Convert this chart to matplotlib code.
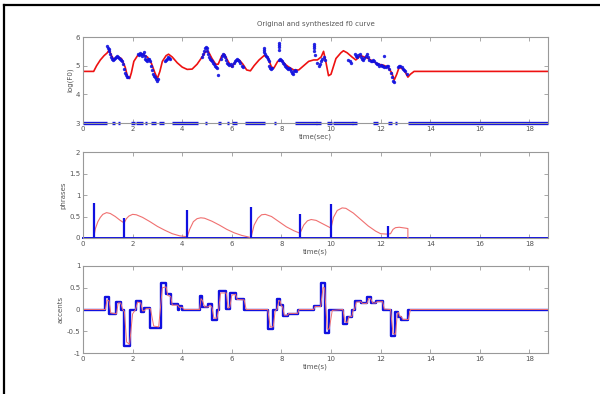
import numpy as np
import matplotlib.pyplot as plt
from matplotlib.lines import Line2D

# ---------------- data ----------------
# top panel: synthesized log F0 (red)
syn_t = [0, 0.43, 0.55, 0.7, 0.85, 0.98, 1.05, 1.15, 1.25, 1.4, 1.55, 1.7, 1.8, 1.88, 1.95,
         2.05, 2.2, 2.4, 2.6, 2.75, 2.9, 3.0, 3.1, 3.2, 3.35, 3.45, 3.6, 3.8, 4.0, 4.2, 4.4,
         4.6, 4.8, 4.95, 5.05, 5.2, 5.35, 5.45, 5.6, 5.7, 5.85, 6.0, 6.15, 6.3, 6.45, 6.6,
         6.75, 6.9, 7.1, 7.3, 7.45, 7.6, 7.7, 7.85, 8.0, 8.15, 8.3, 8.5, 8.7, 8.9, 9.1, 9.3,
         9.45, 9.6, 9.7, 9.8, 9.9, 10.0, 10.2, 10.4, 10.5, 10.65, 10.85, 11.0, 11.2, 11.5,
         11.7, 11.9, 12.1, 12.3, 12.45, 12.55, 12.65, 12.75, 12.95, 13.1, 13.2, 13.35, 18.75]
syn_v = [4.8, 4.8, 5.0, 5.2, 5.35, 5.45, 5.55, 5.35, 5.2, 5.3, 5.25, 4.95, 4.6, 4.55, 4.75,
         5.15, 5.35, 5.4, 5.3, 5.1, 4.75, 4.55, 4.8, 5.15, 5.35, 5.4, 5.3, 5.1, 4.95, 4.87, 4.88,
         5.05, 5.3, 5.5, 5.5, 5.25, 5.05, 5.05, 5.35, 5.4, 5.15, 4.95, 5.15, 5.2, 5.05, 4.85,
         4.82, 5.0, 5.2, 5.35, 5.3, 4.95, 4.92, 5.15, 5.2, 5.05, 4.95, 4.85, 4.85, 5.0, 5.15, 5.2,
         5.2, 5.3, 5.5, 5.1, 4.65, 4.7, 5.25, 5.45, 5.52, 5.45, 5.3, 5.2, 5.35, 5.25,
         5.15, 5.05, 5.02, 4.95, 4.75, 4.5, 4.7, 4.95, 4.85, 4.6, 4.7, 4.8, 4.8]

# top panel: original log F0 (blue dots, voiced frames)
f0_t = [0.98, 1.0, 1.03, 1.06, 1.1, 1.14, 1.18, 1.22, 1.26, 1.3, 1.34, 1.38, 1.42, 1.46, 1.5,
        1.54, 1.58, 1.62, 1.66, 1.7, 1.74, 1.78, 1.82,
        2.2, 2.24, 2.28, 2.32, 2.36, 2.4, 2.44, 2.48, 2.52, 2.56, 2.6, 2.64, 2.68, 2.72, 2.76,
        2.8, 2.84, 2.88, 2.92, 2.96, 3.0, 3.04,
        3.3, 3.34, 3.38, 3.42, 3.46, 3.5,
        4.78, 4.82, 4.86, 4.9, 4.94, 4.98, 5.02, 5.06, 5.1, 5.14, 5.18, 5.22, 5.26, 5.3, 5.34,
        5.38, 5.42, 5.45,
        5.55, 5.6, 5.64, 5.68, 5.72, 5.76, 5.8, 5.84, 5.88,
        5.98, 6.02, 6.1, 6.14, 6.18, 6.22, 6.26, 6.3, 6.34, 6.4, 6.45,
        7.28, 7.28, 7.28, 7.32, 7.36, 7.4, 7.44, 7.48, 7.52, 7.56, 7.6, 7.64,
        7.9, 7.9, 7.9, 7.9, 7.92, 7.96, 8.0, 8.04, 8.08, 8.12, 8.16, 8.2, 8.24, 8.28, 8.32,
        8.36, 8.4, 8.44, 8.48, 8.52, 8.56, 8.6,
        9.3, 9.3, 9.3, 9.3, 9.35, 9.45, 9.5, 9.55, 9.6, 9.65, 9.7, 9.75,
        10.7, 10.75, 10.8,
        10.95, 11.0, 11.05, 11.1, 11.15, 11.2, 11.25, 11.3, 11.35, 11.4, 11.45, 11.5, 11.55,
        11.6, 11.65, 11.7, 11.75, 11.8, 11.85, 11.9, 11.95, 12.0, 12.05, 12.1, 12.15, 12.15,
        12.2, 12.25, 12.3, 12.35, 12.4, 12.45, 12.5, 12.55,
        12.7, 12.75, 12.8, 12.85, 12.9, 12.95, 13.0, 13.05]
f0_v = [5.68, 5.62, 5.58, 5.5, 5.42, 5.3, 5.22, 5.2, 5.22, 5.26, 5.3, 5.32, 5.3, 5.28, 5.24,
        5.2, 5.15, 5.05, 4.9, 4.75, 4.68, 4.62, 4.6,
        5.42, 5.38, 5.45, 5.4, 5.35, 5.4, 5.48, 5.35, 5.22, 5.2, 5.18, 5.22, 5.25, 5.15, 5.0,
        4.85, 4.7, 4.65, 4.6, 4.52, 4.48, 4.55,
        5.15, 5.2, 5.25, 5.3, 5.28, 5.22,
        5.3, 5.4, 5.5, 5.6, 5.65, 5.62, 5.5, 5.42, 5.3, 5.22, 5.2, 5.15, 5.1, 5.05, 4.98,
        4.95, 4.92, 4.68,
        5.25, 5.35, 5.4, 5.38, 5.3, 5.2, 5.1, 5.05, 5.02,
        5.05, 5.0, 5.1, 5.15, 5.2, 5.22, 5.2, 5.15, 5.1, 5.0, 4.95,
        5.62, 5.55, 5.48, 5.4, 5.35, 5.3, 5.25, 5.15, 5.0, 4.92, 4.9, 4.92,
        5.8, 5.72, 5.64, 5.56, 5.2, 5.22, 5.2, 5.15, 5.1, 5.05, 5.0, 4.95, 4.92, 4.9, 4.92,
        4.88, 4.8, 4.75, 4.7, 4.8, 4.85, 4.82,
        5.76, 5.68, 5.6, 5.52, 5.38, 5.1, 5.0, 5.05, 5.15, 5.25, 5.3, 5.2,
        5.2, 5.15, 5.1,
        5.4, 5.35, 5.3, 5.38, 5.4, 5.3, 5.25, 5.2, 5.28, 5.35, 5.4, 5.3, 5.2,
        5.18, 5.15, 5.2, 5.15, 5.1, 5.05, 5.05, 5.0, 5.02, 5.0, 4.98, 4.95, 5.35,
        4.95, 4.98, 5.0, 4.9, 4.75, 4.6, 4.45, 4.42,
        4.95, 5.0, 4.98, 4.95, 4.9, 4.85, 4.8, 4.7]

# top panel: unvoiced frames, drawn on the floor value
uv_floor = 3
uv_on = [0.0, 1.15, 1.4, 1.95, 2.15, 2.5, 2.75, 3.05, 3.6, 4.9, 5.45, 5.8, 6.0, 6.55, 7.7,
         8.55, 9.4, 9.85, 10.1, 10.85, 11.7, 12.3, 12.6, 13.1]
uv_off = [0.95, 1.3, 1.5, 2.1, 2.4, 2.6, 2.95, 3.25, 4.65, 5.0, 5.55, 5.9, 6.2, 7.35, 7.8,
          9.45, 9.6, 10.05, 10.9, 11.05, 11.9, 12.45, 12.65, 18.75]

# middle panel: phrase commands (blue) and phrase component (red)
phr_t = [0.43, 1.66, 4.19, 6.77, 8.75, 10.0, 12.28]
phr_a = [0.81, 0.47, 0.66, 0.73, 0.55, 0.79, 0.27]
pc_t = [0.43, 0.5, 0.6, 0.7, 0.8, 0.95, 1.1, 1.3, 1.5, 1.66, 1.75, 1.85, 2.0, 2.15, 2.4,
        2.7, 3.0, 3.3, 3.6, 3.9, 4.19, 4.19, 4.3, 4.45, 4.6, 4.75, 4.9, 5.2, 5.5, 5.8, 6.1,
        6.4, 6.7, 6.77, 6.9, 7.05, 7.2, 7.35, 7.6, 7.9, 8.2, 8.5, 8.75, 8.9, 9.05, 9.2, 9.4,
        9.7, 10.0, 10.1, 10.25, 10.45, 10.6, 10.9, 11.2, 11.5, 11.8, 12.0, 12.28, 12.4, 12.5,
        12.6, 12.75, 13.0, 13.1, 13.1]
pc_v = [0.0, 0.22, 0.38, 0.48, 0.55, 0.59, 0.57, 0.5, 0.41, 0.35, 0.45, 0.51, 0.55, 0.54, 0.48,
        0.38, 0.27, 0.18, 0.1, 0.05, 0.03, 0.0, 0.2, 0.38, 0.45, 0.47, 0.46, 0.39, 0.3, 0.2, 0.12,
        0.06, 0.02, 0.0, 0.3, 0.46, 0.54, 0.55, 0.5, 0.38, 0.26, 0.17, 0.11, 0.3, 0.4, 0.43, 0.41,
        0.32, 0.23, 0.48, 0.64, 0.7, 0.69, 0.58, 0.43, 0.28, 0.16, 0.1, 0.09, 0.1, 0.2,
        0.24, 0.25, 0.23, 0.22, 0.0]

# bottom panel: accent commands (blue steps) and accent component (red)
acc_t = [0, 0.9, 1.05, 1.35, 1.52, 1.67, 1.88, 2.12, 2.33, 2.47, 2.72, 3.13, 3.35, 3.54,
         3.82, 3.88, 4.0, 4.7, 4.8, 5.05, 5.2, 5.4, 5.47, 5.78, 5.92, 6.15, 6.5, 7.45, 7.67,
         7.82, 7.95, 8.05, 8.25, 8.65, 9.3, 9.58, 9.74, 9.93, 10.48, 10.66, 10.84, 10.95,
         11.2, 11.45, 11.6, 11.8, 12.08, 12.4, 12.6, 12.72, 12.83, 13.12, 18.75]
acc_v = [0, 0.28, -0.11, 0.18, 0.0, -0.85, 0.0, 0.19, -0.05, 0.03, -0.43, 0.6, 0.35, 0.12,
         0.0, 0.08, 0.0, 0.3, 0.05, 0.12, -0.23, 0.0, 0.42, 0.02, 0.38, 0.25, 0.0, -0.45, 0.0,
         0.25, 0.1, -0.15, -0.1, 0.0, 0.08, 0.62, -0.55, 0.0, -0.33, -0.18, 0.0, 0.2,
         0.15, 0.28, 0.15, 0.2, 0.0, -0.62, -0.05, -0.18, -0.25, 0.0, 0.0]
ac_t = [0, 0.9, 0.97, 1.05, 1.12, 1.35, 1.42, 1.52, 1.6, 1.67, 1.76, 1.88, 2.0, 2.12, 2.2,
        2.33, 2.4, 2.47, 2.55, 2.72, 2.85, 3.05, 3.2, 3.35, 3.42, 3.54, 3.6, 3.82, 3.88, 4.0,
        4.08, 4.7, 4.76, 4.82, 4.9, 5.05, 5.12, 5.2, 5.28, 5.4, 5.47, 5.55, 5.78, 5.85, 5.92,
        6.0, 6.15, 6.22, 6.5, 6.58, 7.45, 7.55, 7.67, 7.75, 7.82, 7.9, 7.95, 8.0, 8.05, 8.12,
        8.25, 8.3, 8.65, 8.72, 9.3, 9.36, 9.58, 9.68, 9.74, 9.85, 9.93, 10.05, 10.48, 10.56,
        10.66, 10.72, 10.84, 10.9, 10.95, 11.02, 11.2, 11.27, 11.45, 11.52, 11.6, 11.68, 11.8,
        11.86, 12.08, 12.15, 12.4, 12.5, 12.6, 12.68, 12.72, 12.78, 12.83, 12.9, 13.12, 13.2,
        18.75]
ac_v = [0, 0, 0.22, 0.2, -0.08, -0.1, 0.15, 0.15, 0.0, -0.05, -0.75, -0.8, -0.1, 0.0, 0.17,
        0.15, -0.03, -0.03, 0.02, 0.02, -0.38, -0.4, 0.5, 0.52, 0.32, 0.3, 0.1, 0.1, 0.05, 0.05,
        0, 0, 0.25, 0.2, 0.06, 0.06, 0.1, 0.05, -0.2, -0.2, 0.0, 0.38, 0.38, 0.03, 0.05,
        0.33, 0.35, 0.23, 0.22, 0.0, 0, -0.4, -0.4, -0.02, 0.0, 0.2, 0.2, 0.08, 0.06, -0.13,
        -0.13, -0.09, -0.09, 0, 0, 0.07, 0.07, 0.5, 0.5, -0.45, -0.45, -0.02, 0, -0.28,
        -0.3, -0.17, -0.16, 0, 0, 0.17, 0.18, 0.14, 0.14, 0.25, 0.25, 0.15, 0.15,
        0.18, 0.18, 0.01, 0, -0.55, -0.57, -0.08, -0.07, -0.16, -0.16, -0.23, -0.23, 0,
        0]

t_end = 18.75
xticks = [0, 2, 4, 6, 8, 10, 12, 14, 16, 18]

# ---------------- drawing ----------------
txt = '#555555'
frame = '#999999'
blue = '#1010e0'

fig = plt.figure(figsize=(6, 3.94), dpi=100)
fig.patch.set_facecolor('white')

# border of the screenshot (top and left only)
fig.add_artist(Line2D([4/600, 1], [1-5/394, 1-5/394], color='black', lw=1.6))
fig.add_artist(Line2D([4/600, 4/600], [0, 1-5/394], color='black', lw=1.6))

ax1 = fig.add_axes([83/600, 1-123/394, 465/600, 86/394])
ax2 = fig.add_axes([83/600, 1-238/394, 465/600, 86/394])
ax3 = fig.add_axes([83/600, 1-353/394, 465/600, 87/394])

def style(ax):
    ax.set_xlim(0, t_end)
    ax.set_xticks(xticks)
    ax.tick_params(direction='in', top=True, right=True, length=3, width=0.6,
                   colors=frame, labelcolor=txt, labelsize=5, pad=2)
    for s in ax.spines.values():
        s.set_color(frame)
        s.set_linewidth(0.8)

# top: original and synthesized f0
ax1.plot(syn_t, syn_v, color='#ee1111', lw=1.2)
ax1.plot(f0_t, f0_v, 'o', color=blue, ms=2.4, mew=0, alpha=0.9)
ax1.hlines([uv_floor] * len(uv_on), uv_on, uv_off, colors=blue, lw=2.4, clip_on=False)
ax1.set_ylim(3, 6)
ax1.set_yticks([3, 4, 5, 6])
style(ax1)
ax1.set_title('Original and synthesized f0 curve', fontsize=5, color=txt, pad=8)
ax1.set_ylabel('log(F0)', fontsize=5, color=txt, labelpad=2)
ax1.set_xlabel('time(sec)', fontsize=5, color=txt, labelpad=1)

# middle: phrases
ax2.axhline(0, color=blue, lw=1.4, clip_on=False)
ax2.plot(pc_t, pc_v, color='#f07070', lw=0.8)
ax2.vlines(phr_t, 0, phr_a, colors=blue, lw=1.6)
ax2.set_ylim(0, 2)
ax2.set_yticks([0, 0.5, 1, 1.5, 2])
ax2.set_yticklabels(['0', '0.5', '1', '1.5', '2'])
style(ax2)
ax2.set_ylabel('phrases', fontsize=5, color=txt, labelpad=2)
ax2.set_xlabel('time(s)', fontsize=5, color=txt, labelpad=1)

# bottom: accents
ax3.step(acc_t, acc_v, where='post', color=blue, lw=1.7)
ax3.plot(ac_t, ac_v, color='#f07070', lw=0.7)
ax3.set_ylim(-1, 1)
ax3.set_yticks([-1, -0.5, 0, 0.5, 1])
ax3.set_yticklabels(['-1', '-0.5', '0', '0.5', '1'])
style(ax3)
ax3.set_ylabel('accents', fontsize=5, color=txt, labelpad=2)
ax3.set_xlabel('time(s)', fontsize=5, color=txt, labelpad=1)

fig.savefig('out.png', dpi=100)
